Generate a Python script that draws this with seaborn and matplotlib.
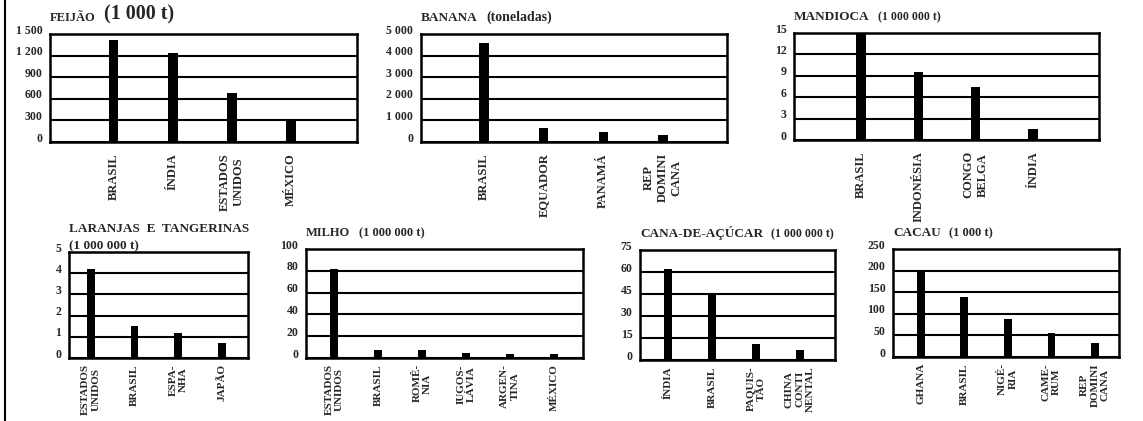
import matplotlib
matplotlib.use("Agg")
import matplotlib.pyplot as plt
import matplotlib.transforms as mtransforms
from matplotlib.lines import Line2D
import seaborn as sns

# ---- dados ----
feijao_paises = ["BRASIL", "ÍNDIA", "ESTADOS\nUNIDOS", "MÉXICO"]
feijao_valores = [1410, 1230, 680, 300]
feijao_ticks = [0, 300, 600, 900, 1200, 1500]
feijao_rotulos = ["0", "300", "600", "900", "1 200", "1 500"]

banana_paises = ["BRASIL", "EQUADOR", "PANAMÁ", "REP\nDOMINI\nCANA"]
banana_valores = [4600, 650, 480, 330]
banana_ticks = [0, 1000, 2000, 3000, 4000, 5000]
banana_rotulos = ["0", "1 000", "2 000", "3 000", "4 000", "5 000"]

mandioca_paises = ["BRASIL", "INDONÉSIA", "CONGO\nBELGA", "ÍNDIA"]
mandioca_valores = [15.0, 9.6, 7.5, 1.6]
mandioca_ticks = [0, 3, 6, 9, 12, 15]
mandioca_rotulos = ["0", "3", "6", "9", "12", "15"]

laranja_paises = ["ESTADOS\nUNIDOS", "BRASIL", "ESPA-\nNHA", "JAPÃO"]
laranja_valores = [4.2, 1.5, 1.2, 0.7]
laranja_ticks = [0, 1, 2, 3, 4, 5]
laranja_rotulos = ["0", "1", "2", "3", "4", "5"]

milho_paises = ["ESTADOS\nUNIDOS", "BRASIL", "ROMÊ-\nNIA", "IUGOS-\nLÁVIA", "ARGEN-\nTINA", "MÉXICO"]
milho_valores = [82, 7, 7, 5, 4, 4]
milho_ticks = [0, 20, 40, 60, 80, 100]
milho_rotulos = ["0", "20", "40", "60", "80", "100"]

cana_paises = ["ÍNDIA", "BRASIL", "PAQUIS-\nTÃO", "CHINA\nCONTI\nNENTAL"]
cana_valores = [62, 44, 11, 7]
cana_ticks = [0, 15, 30, 45, 60, 75]
cana_rotulos = ["0", "15", "30", "45", "60", "75"]

cacau_paises = ["GHANA", "BRASIL", "NIGÉ-\nRIA", "CAME-\nRUM", "REP\nDOMINI\nCANA"]
cacau_valores = [198, 138, 88, 55, 33]
cacau_ticks = [0, 50, 100, 150, 200, 250]
cacau_rotulos = ["0", "50", "100", "150", "200", "250"]

# ---- estilo ----
sns.set_style("white")
plt.rcParams["font.family"] = ["Liberation Serif", "DejaVu Serif"]
plt.rcParams["font.weight"] = "bold"

W, H = 1143, 421
fig = plt.figure(figsize=(W / 100, H / 100), dpi=100)

# paineis: nome, unidade, tamanhos, quebra de linha, dados, caixa (px), xlim,
# largura da barra, tamanho dos rotulos, pad dos rotulos
paineis = [
    ("FEIJÃO", "(1 000 t)", 9, 14.5, False,
     feijao_paises, feijao_valores, feijao_ticks, feijao_rotulos,
     (50, 34, 357, 142), (-1.08, 4.12), 0.16, 9, 8),
    ("BANANA", "(toneladas)", 9.5, 10, False,
     banana_paises, banana_valores, banana_ticks, banana_rotulos,
     (421, 34, 727, 142), (-1.05, 4.07), 0.16, 9, 8),
    ("MANDIOCA", "(1 000 000 t)", 9.5, 8.5, False,
     mandioca_paises, mandioca_valores, mandioca_ticks, mandioca_rotulos,
     (794, 33, 1099, 140), (-1.17, 4.15), 0.16, 9, 8),
    ("LARANJAS  E  TANGERINAS", "(1 000 000 t)", 9.5, 9.5, True,
     laranja_paises, laranja_valores, laranja_ticks, laranja_rotulos,
     (69, 252, 248, 358), (-0.5, 3.6), 0.18, 8, 4.5),
    ("MILHO", "(1 000 000 t)", 9, 9, False,
     milho_paises, milho_valores, milho_ticks, milho_rotulos,
     (306, 249, 583, 358), (-0.64, 5.66), 0.18, 8, 4.5),
    ("CANA-DE-AÇÚCAR", "(1 000 000 t)", 9.5, 8.5, False,
     cana_paises, cana_valores, cana_ticks, cana_rotulos,
     (640, 250, 835, 360), (-0.64, 3.8), 0.18, 8, 4.5),
    ("CACAU", "(1 000 t)", 9.5, 9, False,
     cacau_paises, cacau_valores, cacau_ticks, cacau_rotulos,
     (893, 249, 1119, 357), (-0.64, 4.55), 0.18, 8, 4.5),
]

sobe = mtransforms.ScaledTranslation(0, 3.5 / 72, fig.dpi_scale_trans)

for (nome, unidade, fs_nome, fs_unid, quebra, paises, valores, ticks, rotulos,
     caixa, xlim, largura, fs_cat, pad_cat) in paineis:
    x0, y0, x1, y1 = caixa
    ax = fig.add_axes([x0 / W, 1 - y1 / H, (x1 - x0) / W, (y1 - y0) / H])
    sns.barplot(x=paises, y=valores, color="black", saturation=1,
                width=largura, edgecolor="black", linewidth=0, ax=ax)
    ax.set_xlim(*xlim)
    ax.set_ylim(ticks[0], ticks[-1])
    ax.set_yticks(ticks, rotulos)
    ax.set_xticks(range(len(paises)), paises, rotation=90,
                  multialignment="center")
    ax.set_xlabel("")
    ax.set_ylabel("")
    ax.tick_params(axis="y", length=0, pad=5.5, labelsize=8.5)
    ax.tick_params(axis="x", length=0, pad=pad_cat, labelsize=fs_cat)
    for lbl in ax.get_yticklabels():
        lbl.set_transform(lbl.get_transform() + sobe)
    ax.yaxis.grid(True, color="black", lw=1.5)
    ax.set_axisbelow(True)
    for s in ax.spines.values():
        s.set_color("black")
        s.set_linewidth(1.8)

    if quebra:
        ax.text(0, 1, unidade, transform=ax.transAxes, fontsize=fs_unid,
                ha="left", va="bottom", fontweight="bold")
        ax.annotate(nome, xy=(0, 1), xycoords="axes fraction",
                    xytext=(0, 12), textcoords="offset points",
                    fontsize=fs_nome, ha="left", va="bottom",
                    fontweight="bold")
    else:
        t = ax.annotate(nome, xy=(0, 1), xycoords="axes fraction",
                        xytext=(0, 7), textcoords="offset points",
                        fontsize=fs_nome, ha="left", va="bottom",
                        fontweight="bold")
        ax.annotate(unidade, xy=(1, 0), xycoords=t,
                    xytext=(6, 0), textcoords="offset points",
                    fontsize=fs_unid, ha="left", va="bottom",
                    fontweight="bold")

# margem da pagina
fig.add_artist(Line2D([0.004, 0.004], [0, 1], color="black", lw=1.5))

fig.savefig("out.png", dpi=100, facecolor="white")
